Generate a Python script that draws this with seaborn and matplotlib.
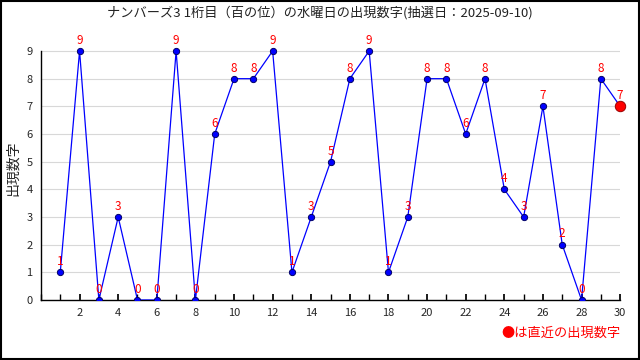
import matplotlib
matplotlib.use("Agg")
import matplotlib.pyplot as plt
import seaborn as sns
import pandas as pd
from matplotlib.patches import Rectangle

draws = list(range(1, 31))
digits = [1, 9, 0, 3, 0, 0, 9, 0, 6, 8, 8, 9, 1, 3, 5, 8, 9, 1, 3, 8, 8, 6, 8, 4, 3, 7, 2, 0, 8, 7]
title = "ナンバーズ3 1桁目（百の位）の水曜日の出現数字(抽選日：2025-09-10)"
ylabel = "出現数字"
note = "●は直近の出現数字"

sns.set_theme(style="white")
plt.rcParams['font.family'] = ['Noto Sans CJK JP', 'DejaVu Sans']

df = pd.DataFrame({"draw": draws, "digit": digits})

fig = plt.figure(figsize=(6.4, 3.6), dpi=100)
ax = fig.add_axes([0.064, 0.1667, 0.905, 0.73])

sns.lineplot(data=df, x="draw", y="digit", ax=ax, color="#0000ff", linewidth=0.9,
             marker="o", markersize=4.5, markerfacecolor="#0000ff",
             markeredgecolor="#000066", markeredgewidth=0.7, zorder=3)
last = df.iloc[[-1]]
ax.plot(last["draw"], last["digit"], "o", color="#ff0000", markersize=7.5,
        markeredgecolor="#990000", markeredgewidth=0.7, zorder=4, clip_on=False)

for x, y in zip(draws, digits):
    ax.annotate(str(y), (x, y), xytext=(0, 3), textcoords="offset points",
                ha="center", va="bottom", color="#ff0000", fontsize=8.5, zorder=5,
                annotation_clip=False)

ax.set_xlim(0, 30)
ax.set_ylim(0, 9.5)
ax.set_xticks(range(2, 31, 2))
ax.set_xticks(range(0, 31), minor=True)
ax.set_yticks(range(0, 10))
ax.yaxis.grid(True, color="#d8d8d8", linewidth=0.8)
ax.set_axisbelow(True)
for s in ["top", "right"]:
    ax.spines[s].set_visible(False)
for s in ["left", "bottom"]:
    ax.spines[s].set_color("black")
    ax.spines[s].set_linewidth(1)
ax.spines["left"].set_bounds(0, 9)
ax.tick_params(axis="x", which="both", direction="in", length=4, bottom=True, labelsize=8, pad=6, color="black")
ax.tick_params(axis="y", left=False, length=0, labelsize=8, pad=6)
ax.set_xlabel("")
ax.set_ylabel(ylabel, fontsize=10)
ax.yaxis.set_label_coords(-0.036, 0.5)

fig.text(0.5, 0.965, title, ha="center", va="center", fontsize=9.5, color="#222222")
fig.text(0.97, 0.075, note, ha="right", va="center", fontsize=9.5, color="#ff0000")
fig.patches.append(Rectangle((0.001, 0.002), 0.997, 0.995, transform=fig.transFigure,
                             fill=False, edgecolor="black", linewidth=1.5))

fig.savefig("out.png", dpi=100)
